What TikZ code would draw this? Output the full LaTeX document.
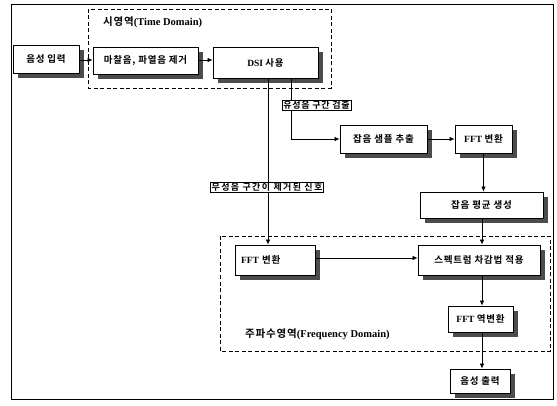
\documentclass[tikz,border=0pt]{standalone}
\usepackage{fontspec}
\setmainfont{Liberation Serif}
\newfontfamily\cjk{Noto Sans CJK KR}[BoldFont=* Bold,LetterSpace=8]
\newfontfamily\cjkw{Noto Sans CJK KR}[BoldFont=* Bold,LetterSpace=15]
\usetikzlibrary{arrows.meta,shadows}
\begin{document}
\begin{tikzpicture}[x=1pt,y=-1pt,
  box/.style={draw,line width=0.8pt,fill=white,inner sep=0pt,
    font=\fontsize{9.5}{11}\selectfont\bfseries,
    drop shadow={shadow xshift=4.5pt,shadow yshift=-5pt,fill=black!70,opacity=1}},
  tag/.style={draw,line width=0.7pt,fill=white,inner xsep=1.2pt,inner ysep=0.6pt,
    font=\fontsize{9}{10}\selectfont\bfseries},
  arr/.style={line width=0.7pt,-{Latex[length=5pt,width=4.5pt]}},
  dom/.style={line width=0.8pt,dash pattern=on 4pt off 2.5pt},
  lbl/.style={anchor=west,inner sep=0pt,font=\fontsize{10.5}{12}\selectfont\bfseries}]
\useasboundingbox (0,0) rectangle (557,406);
\draw[line width=0.9pt] (11,4) rectangle (553,399);
\draw[dom] (88,9) rectangle (331,88);
\draw[dom] (220,236) rectangle (550,351);
\node[lbl] (tdl) at (103,22) {{\cjk 시영역}(Time Domain)};
\node[lbl] (fdl) at (245,334) {{\cjk 주파수영역}(Frequency Domain)};
% boxes
\node[box,minimum width=66pt,minimum height=28pt] (in) at (46,59) {\cjk 음성 입력};
\node[box,minimum width=105pt,minimum height=27pt] (fric) at (145.5,60.5) {\cjk 마찰음, 파열음 제거};
\node[box,minimum width=105pt,minimum height=31pt] (dsi) at (265.5,62.5) {DSI {\cjk 사용}};
\node[box,minimum width=87pt,minimum height=28pt] (noise) at (383.5,139) {\cjk 잡음 샘플 추출};
\node[box,minimum width=57pt,minimum height=28pt] (fft1) at (483.5,139) {FFT {\cjk 변환}};
\node[box,minimum width=123pt,minimum height=26pt] (avg) at (481.5,205) {\cjk 잡음 평균 생성};
\node[box,minimum width=80pt,minimum height=30pt,text width=68pt,align=left] (fft2) at (275,260) {FFT {\cjk 변환}};
\node[box,minimum width=122pt,minimum height=30pt] (spec) at (479,260) {\cjk 스펙트럼 차감법 적용};
\node[box,minimum width=65pt,minimum height=26pt] (ifft) at (480.5,319) {FFT {\cjk 역변환}};
\node[box,minimum width=60pt,minimum height=24pt] (out) at (480,381) {\cjk 음성 출력};
% helper coordinates
\coordinate (xa) at (268,0);
\coordinate (xb) at (291,0);
\coordinate (xc) at (482,0);
\coordinate (xd) at (483.5,0);
\coordinate (yb) at (0,139);
\coordinate (yf) at (0,258);
\coordinate (yi) at (0,60);
% connectors
\draw[arr] (in.east |- yi) -- (fric.west |- yi);
\draw[arr] (fric.east |- yi) -- (dsi.west |- yi);
\draw[arr] (dsi.south -| xa) -- (fft2.north -| xa);
\draw[arr] (dsi.south -| xb) -- (xb |- yb) -- (noise.west |- yb);
\draw[arr] (noise.east |- yb) -- (fft1.west |- yb);
\draw[arr] (fft1.south -| xd) -- (avg.north -| xd);
\draw[arr] (avg.south -| xc) -- (spec.north -| xc);
\draw[arr] (fft2.east |- yf) -- (spec.west |- yf);
\draw[arr] (spec.south -| xc) -- (ifft.north -| xc);
\draw[arr] (ifft.south -| xc) -- (out.north -| xc);
% tags on lines
\node[tag] (det) at (316.5,105.5) {\cjk 유성음 구간 검출};
\node[tag] (unv) at (267,187.5) {\cjkw 무성음 구간이 제거된 신호};
\end{tikzpicture}
\end{document}
